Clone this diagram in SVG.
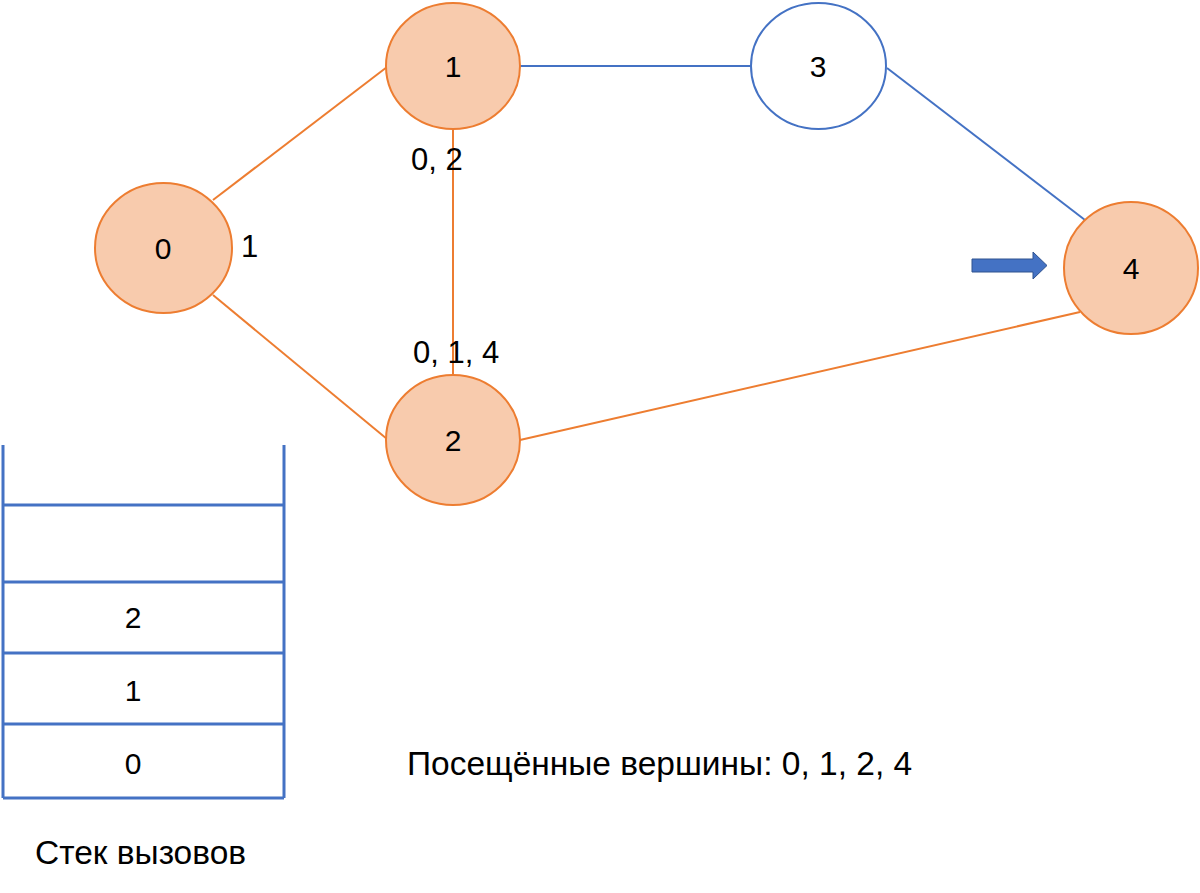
<svg xmlns="http://www.w3.org/2000/svg" width="1200" height="893" viewBox="0 0 1200 893">
<style>
.visited{fill:#F8CBAD;stroke:#ED7D31;stroke-width:2}
.unvisited{fill:#FFFFFF;stroke:#4472C4;stroke-width:2}
.eo{stroke:#ED7D31;stroke-width:2;fill:none}
.eb{stroke:#4472C4;stroke-width:2;fill:none}
.st{stroke:#4472C4;stroke-width:3;fill:none}
text{font-family:"Liberation Sans",Arial,sans-serif;fill:#000}
.nl{font-size:30px;text-anchor:middle}
.lb{font-size:31px}
.big{font-size:33.5px}
</style>
<rect width="1200" height="893" fill="#FFFFFF"/>
<g id="connectors">
<line class="eo" x1="213" y1="200" x2="387" y2="67"/>
<line class="eo" x1="213" y1="295" x2="387" y2="439"/>
<line class="eo" x1="453" y1="130" x2="453" y2="376"/>
<line class="eb" x1="520" y1="66" x2="751" y2="66"/>
<line class="eb" x1="887" y1="68" x2="1085" y2="220"/>
<line class="eo" x1="520" y1="440" x2="1080" y2="312"/>
</g>
<g id="node0"><ellipse class="visited" cx="163.5" cy="248" rx="68.5" ry="65"/><text class="nl" x="163" y="259">0</text></g>
<g id="node1"><ellipse class="visited" cx="453" cy="66" rx="67" ry="63"/><text class="nl" x="453" y="77">1</text></g>
<g id="node2"><ellipse class="visited" cx="453" cy="440" rx="67" ry="65"/><text class="nl" x="453" y="451">2</text></g>
<g id="node3"><ellipse class="unvisited" cx="818.5" cy="66" rx="67.5" ry="63"/><text class="nl" x="818" y="77">3</text></g>
<g id="node4"><ellipse class="visited" cx="1131" cy="268" rx="67" ry="66"/><text class="nl" x="1131" y="279">4</text></g>
<g id="labels">
<text class="lb" x="241" y="257">1</text>
<text class="lb" x="411" y="170">0, 2</text>
<text class="lb" x="413" y="363">0, 1, 4</text>
</g>
<g id="pointer">
<path d="M972 259 H1033 V252 L1047 265.5 L1033 279 V272 H972 Z" fill="#4472C4" stroke="#2F528F" stroke-width="1"/>
</g>
<g id="stack">
<line class="st" x1="3" y1="445" x2="3" y2="798"/>
<line class="st" x1="284" y1="445" x2="284" y2="798"/>
<line class="st" x1="3" y1="505" x2="284" y2="505"/>
<line class="st" x1="3" y1="582" x2="284" y2="582"/>
<line class="st" x1="3" y1="653" x2="284" y2="653"/>
<line class="st" x1="3" y1="724" x2="284" y2="724"/>
<line class="st" x1="3" y1="798" x2="284" y2="798"/>
<text class="nl" x="133" y="628">2</text>
<text class="nl" x="133" y="701">1</text>
<text class="nl" x="133" y="774">0</text>
<text class="big" x="35" y="864">Стек вызовов</text>
</g>
<text class="big" x="407" y="775">Посещённые вершины: 0, 1, 2, 4</text>
</svg>
